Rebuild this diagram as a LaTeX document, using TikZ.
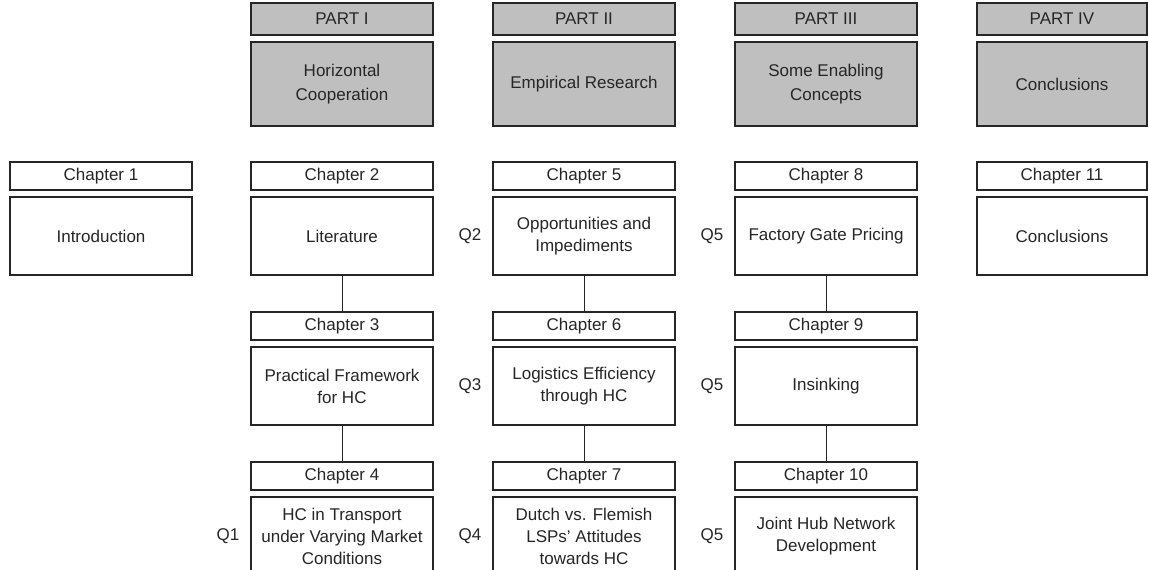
\documentclass[tikz,border=0pt]{standalone}
\usepackage{fontspec}
\setmainfont{Liberation Sans}
\begin{document}
\begin{tikzpicture}[x=1pt,y=-1pt,
  every node/.style={font=\fontsize{17}{22}\selectfont, text=black!85},
  box/.style={draw=black!85, line width=1.1pt, fill=white, align=center,
              inner sep=0pt, minimum width=182pt},
  narrow/.style={minimum width=170pt},
  parthead/.style={box, fill=gray!50, minimum height=32pt},
  partbox/.style={box, fill=gray!50, minimum height=84pt,
                  font=\fontsize{17}{24}\selectfont},
  chead/.style={box, minimum height=28pt},
  cbox/.style={box, minimum height=78pt},
  link/.style={draw=black!85, line width=0.9pt}]
\useasboundingbox (0,0) rectangle (1149,570);
\clip (0,0) rectangle (1149,570);

% Part headers
\node[parthead] (p1) at (342,19) {PART I};
\node[parthead] (p2) at (584,19) {PART II};
\node[parthead] (p3) at (826,19) {PART III};
\node[parthead,narrow] (p4) at (1062,19) {PART IV};
\node[partbox] (t1) at (342,84) {Horizontal\\Cooperation};
\node[partbox] (t2) at (584,84) {Empirical Research};
\node[partbox] (t3) at (826,84) {Some Enabling\\Concepts};
\node[partbox,narrow] (t4) at (1062,84) {Conclusions};

% Column 0
\node[chead] (h1) at (101,176) {Chapter 1};
\node[cbox] (b1) at (101,236) {Introduction};

% Column 1
\node[chead] (h2) at (342,176) {Chapter 2};
\node[cbox] (b2) at (342,236) {Literature};
\node[chead] (h3) at (342,326) {Chapter 3};
\node[cbox] (b3) at (342,386) {Practical Framework\\for HC};
\node[chead] (h4) at (342,476) {Chapter 4};
\node[cbox] (b4) at (342,536) {HC in Transport\\under Varying Market\\Conditions};

% Column 2
\node[chead] (h5) at (584,176) {Chapter 5};
\node[cbox] (b5) at (584,236) {Opportunities and\\Impediments};
\node[chead] (h6) at (584,326) {Chapter 6};
\node[cbox] (b6) at (584,386) {Logistics Efficiency\\through HC};
\node[chead] (h7) at (584,476) {Chapter 7};
\node[cbox] (b7) at (584,536) {Dutch vs. Flemish\\LSPs' Attitudes\\towards HC};

% Column 3
\node[chead] (h8) at (826,176) {Chapter 8};
\node[cbox] (b8) at (826,236) {Factory Gate Pricing};
\node[chead] (h9) at (826,326) {Chapter 9};
\node[cbox] (b9) at (826,386) {Insinking};
\node[chead] (h10) at (826,476) {Chapter 10};
\node[cbox] (b10) at (826,536) {Joint Hub Network\\Development};

% Column 4
\node[chead,narrow] (h11) at (1062,176) {Chapter 11};
\node[cbox,narrow] (b11) at (1062,236) {Conclusions};

% Research questions
\node (q1) at (228,536) {Q1};
\node (q2) at (470,236) {Q2};
\node (q3) at (470,386) {Q3};
\node (q4) at (470,536) {Q4};
\node (q5a) at (712,236) {Q5};
\node (q5b) at (712,386) {Q5};
\node (q5c) at (712,536) {Q5};

% Links between chapters
\draw[link] (b2.south) -- (h3.north);
\draw[link] (b3.south) -- (h4.north);
\draw[link] (b5.south) -- (h6.north);
\draw[link] (b6.south) -- (h7.north);
\draw[link] (b8.south) -- (h9.north);
\draw[link] (b9.south) -- (h10.north);
\end{tikzpicture}
\end{document}
